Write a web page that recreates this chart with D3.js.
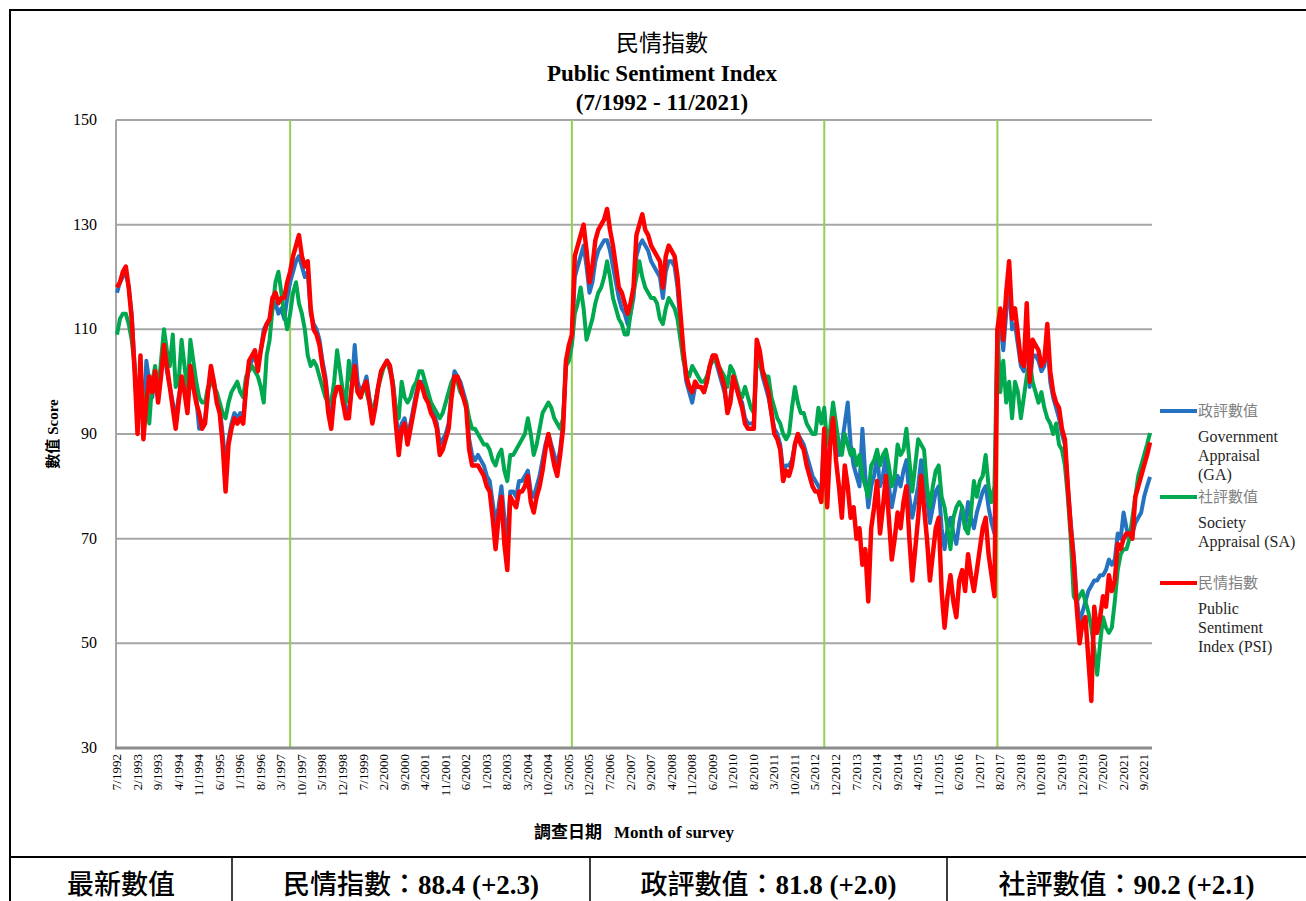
<!DOCTYPE html>
<html>
<head>
<meta charset="utf-8">
<script src="https://cdn.jsdelivr.net/npm/d3@7"></script>
<style>
    body { margin: 0; background: white; }
</style>
</head>
<body>
<script>

// monthly values, 7/1992 - 11/2021, one line per year
const psi = [
    118,119,121,122,118,112,
    102,90,105,89,96,101,98,102,96,101,107,103,
    99,95,91,96,101,98,94,103,99,96,94,91,
    92,98,103,100,96,94,88,79,88,91,93,92,
    93,92,99,104,105,106,102,106,109,111,112,116,
    117,115,116,116,119,121,124,126,128,124,122,123,
    114,110,109,107,103,100,94,91,97,99,99,96,
    93,93,99,103,98,97,99,100,96,92,95,99,
    102,103,104,103,99,92,86,91,92,88,91,94,
    97,100,99,97,96,94,93,91,86,87,89,91,
    97,101,101,99,97,95,87,84,84,84,83,82,
    80,79,74,68,74,78,69,64,78,77,76,79,
    79,80,82,77,75,78,80,83,87,90,87,84,
    82,86,91,104,107,109,124,126,128,130,125,119,
    122,127,129,130,131,133,129,126,122,118,117,115,
    113,115,118,128,130,132,129,128,126,125,124,123,
    118,124,126,125,124,120,113,106,101,99,98,100,
    99,99,98,100,103,105,105,103,101,99,94,96,
    101,99,97,95,92,91,91,91,108,106,102,100,
    98,94,90,89,87,81,83,82,84,88,90,88,
    87,84,82,80,79,79,77,91,76,88,93,85,
    80,74,84,80,74,76,70,72,65,68,58,72,
    76,81,71,76,82,74,66,70,75,72,77,80,
    70,62,68,74,82,76,70,62,67,72,74,60,
    53,59,63,58,55,62,64,60,67,63,60,64,
    68,72,74,67,63,59,110,114,108,117,123,112,
    114,109,104,103,115,100,108,107,106,103,104,111,
    102,98,96,95,91,89,80,72,66,57,50,54,
    55,47,39,57,52,55,59,57,63,60,62,69,
    68,70,71,71,70,78,80,82,84,86,88.4
]

const ga = [
    117,119,120,121,118,113,
    103,92,104,91,104,100,97,101,97,102,106,102,
    99,96,93,97,100,99,95,102,99,97,91,92,
    93,98,102,100,97,95,90,84,89,92,94,93,
    94,93,99,103,104,105,103,106,110,111,111,114,
    115,113,114,112,116,119,121,123,124,122,120,121,
    113,111,110,108,104,101,96,93,97,99,99,97,
    95,94,99,107,100,98,99,101,97,94,96,99,
    102,103,104,103,100,94,89,92,93,90,92,95,
    98,100,100,98,97,95,94,92,88,89,90,92,
    98,102,101,100,98,96,89,86,85,86,85,84,
    82,81,77,73,76,80,74,70,79,79,78,81,
    81,82,83,79,78,80,82,85,88,90,88,86,
    84,87,92,104,106,108,120,122,124,126,122,117,
    119,123,125,126,127,127,125,122,119,116,114,113,
    111,113,116,124,126,127,126,125,123,122,121,120,
    116,121,123,123,122,118,111,105,100,98,96,99,
    99,99,98,100,103,105,104,102,100,98,95,97,
    101,99,97,96,93,92,92,92,106,104,101,99,
    97,94,91,90,88,83,84,84,85,88,90,89,
    88,86,84,82,81,80,79,91,80,89,94,88,
    86,88,92,96,88,84,82,80,91,82,76,80,
    82,86,80,82,86,80,76,79,82,80,83,85,
    78,74,77,80,85,82,78,73,76,79,80,72,
    68,72,74,71,69,73,76,72,77,74,72,75,
    77,79,80,76,73,71,108,111,106,113,119,110,
    111,107,103,102,111,99,105,105,104,102,103,108,
    100,97,95,93,90,88,80,73,67,59,54,56,
    58,60,61,62,62,63,63,64,66,65,66,71,
    70,75,72,70,71,73,74,75,78,80,81.8
]

const sa = [
    109,112,113,113,111,108,
    103,93,101,94,98,92,100,103,98,104,110,106,
    103,109,99,100,108,103,98,108,104,100,97,96,
    96,99,100,99,98,96,94,93,96,98,99,100,
    98,97,101,102,103,102,101,99,96,105,108,114,
    119,121,117,113,110,113,117,119,115,113,110,105,
    103,104,103,101,99,97,96,96,100,106,102,98,
    96,104,100,101,98,97,99,98,96,94,96,99,
    101,103,104,102,100,95,93,100,97,96,97,99,
    100,102,102,100,98,96,95,94,93,94,96,98,
    100,101,100,98,97,96,93,91,91,90,89,88,
    88,87,85,84,86,87,83,81,86,86,87,88,
    89,90,93,90,86,88,91,94,95,96,95,93,
    92,91,93,103,104,107,113,115,118,114,108,110,
    112,115,117,118,120,123,120,116,114,112,111,109,
    109,113,117,120,123,120,118,117,116,116,115,112,
    111,114,116,115,114,112,108,104,102,101,103,102,
    101,100,100,101,103,104,104,103,102,101,99,103,
    102,100,98,97,99,97,95,94,104,103,102,101,
    101,97,95,93,92,90,89,90,95,99,96,94,
    94,92,91,90,90,95,92,95,88,91,96,92,
    88,86,90,88,86,87,84,86,82,80,78,84,
    85,87,84,86,87,84,80,82,88,86,87,91,
    85,79,84,89,88,87,80,76,80,83,84,78,
    76,72,68,74,76,77,76,72,71,75,81,78,
    81,82,86,80,77,80,110,98,104,96,100,93,
    100,98,93,97,101,104,100,98,96,98,95,93,
    92,90,92,88,87,84,78,70,59,58,59,60,
    58,56,53,49,44,50,55,53,52,53,58,64,
    67,68,68,70,74,78,82,84,86,88,90.2
]

const tickLabels = [
    '7/1992','2/1993','9/1993','4/1994','11/1994','6/1995','1/1996','8/1996','3/1997',
    '10/1997','5/1998','12/1998','7/1999','2/2000','9/2000','4/2001','11/2001','6/2002',
    '1/2003','8/2003','3/2004','10/2004','5/2005','12/2005','7/2006','2/2007','9/2007',
    '4/2008','11/2008','6/2009','1/2010','8/2010','3/2011','10/2011','5/2012','12/2012',
    '7/2013','2/2014','9/2014','4/2015','11/2015','6/2016','1/2017','8/2017','3/2018',
    '10/2018','5/2019','12/2019','7/2020','2/2021','9/2021'
]

const yTicks = [30, 50, 70, 90, 110, 130, 150]

// change of Chief Executive
const eventMonths = ['6/1997', '6/2005', '8/2012', '7/2017']

const seriesNames = ['ga', 'sa', 'psi']
const seriesColors = ['#2472c0', '#00a84f', '#ff0000']
const legendLines = [
    ['政評數值', 'Government', 'Appraisal', '(GA)'],
    ['社評數值', 'Society', 'Appraisal (SA)'],
    ['民情指數', 'Public', 'Sentiment', 'Index (PSI)']
]

const latestCells = [
    {zh: '最新數值', num: ''},
    {zh: '民情指數：', num: '88.4 (+2.3)'},
    {zh: '政評數值：', num: '81.8 (+2.0)'},
    {zh: '社評數值：', num: '90.2 (+2.1)'}
]

const months = []
for (let y = 1992, m = 7; y < 2021 || (y === 2021 && m <= 11);) {
    months.push(m + '/' + y)
    m++
    if (m > 12) { m = 1; y++ }
}

const serif = "'Liberation Serif', 'Times New Roman', serif"
const cjk = "'Noto Sans CJK TC', 'Noto Sans CJK SC', sans-serif"

const W = 1306, H = 901
const plot = {left: 116, right: 1152, top: 120, bottom: 748}

const svg = d3.select('body').append('svg')
    .attr('width', W)
    .attr('height', H)

const x = d3.scalePoint()
    .domain(months)
    .range([plot.left + 1, plot.right - 2])

const y = d3.scaleLinear()
    .domain([30, 150])
    .range([plot.bottom, plot.top])

function drawFrame(){
    svg.append('rect')
        .attr('x', 10).attr('y', 10)
        .attr('width', W + 10).attr('height', H + 10)
        .attr('fill', 'none')
        .attr('stroke', '#000')
        .attr('stroke-width', 2)
}

function drawTitles(){
    const cx = 662
    svg.append('text')
        .attr('x', cx).attr('y', 51)
        .attr('text-anchor', 'middle')
        .style('font-family', cjk)
        .style('font-size', '23px')
        .text('民情指數')
    svg.append('text')
        .attr('x', cx).attr('y', 81)
        .attr('text-anchor', 'middle')
        .style('font-family', serif)
        .style('font-weight', 'bold')
        .style('font-size', '23px')
        .text('Public Sentiment Index')
    svg.append('text')
        .attr('x', cx).attr('y', 110)
        .attr('text-anchor', 'middle')
        .style('font-family', serif)
        .style('font-weight', 'bold')
        .style('font-size', '23px')
        .text('(7/1992 - 11/2021)')
}

function drawAxes(){
    svg.append('g')
        .selectAll('line')
        .data(yTicks.filter(t => t > 30))
        .join('line')
        .attr('x1', plot.left).attr('x2', plot.right)
        .attr('y1', d => y(d)).attr('y2', d => y(d))
        .attr('stroke', '#a6a6a6')
        .attr('stroke-width', 2)

    svg.append('g')
        .selectAll('text')
        .data(yTicks)
        .join('text')
        .attr('x', 97)
        .attr('y', d => y(d) + 5)
        .attr('text-anchor', 'end')
        .style('font-family', serif)
        .style('font-size', '16px')
        .text(d => d)

    // vertical event lines
    svg.append('g')
        .selectAll('line')
        .data(eventMonths)
        .join('line')
        .attr('x1', d => x(d)).attr('x2', d => x(d))
        .attr('y1', plot.top).attr('y2', plot.bottom)
        .attr('stroke', '#92d050')
        .attr('stroke-width', 2)

    svg.append('line')
        .attr('x1', plot.left).attr('x2', plot.left)
        .attr('y1', plot.top).attr('y2', plot.bottom)
        .attr('stroke', '#a6a6a6')
        .attr('stroke-width', 2)

    svg.append('line')
        .attr('x1', plot.left - 1).attr('x2', plot.right)
        .attr('y1', y(30)).attr('y2', y(30))
        .attr('stroke', '#8c8c8c')
        .attr('stroke-width', 3)

    svg.append('g')
        .selectAll('text')
        .data(tickLabels)
        .join('text')
        .attr('transform', d => 'translate(' + (x(d) + 4) + ',' + 754 + ') rotate(-90)')
        .attr('text-anchor', 'end')
        .style('font-family', serif)
        .style('font-size', '13px')
        .text(d => d)

    const xt = svg.append('text')
        .attr('x', 634).attr('y', 838)
        .attr('text-anchor', 'middle')
        .style('font-weight', 'bold')
        .style('font-size', '17px')
    xt.append('tspan').style('font-family', cjk).text('調查日期')
    xt.append('tspan').style('font-family', serif).attr('dx', 12).text('Month of survey')

    const yt = svg.append('text')
        .attr('transform', 'translate(58,434) rotate(-90)')
        .attr('text-anchor', 'middle')
        .style('font-weight', 'bold')
        .style('font-size', '15px')
    yt.append('tspan').style('font-family', cjk).text('數值')
    yt.append('tspan').style('font-family', serif).attr('dx', 4).text('Score')
}

function drawSeries(){
    const data = {ga: ga, sa: sa, psi: psi}
    const line = d3.line()
        .x((d, i) => x(months[i]))
        .y(d => y(d))

    seriesNames.forEach((name, k) => {
        svg.append('path')
            .datum(data[name])
            .attr('d', line)
            .attr('fill', 'none')
            .attr('stroke', seriesColors[k])
            .attr('stroke-width', name === 'psi' ? 4.5 : 4)
            .attr('stroke-linejoin', 'round')
    })
}

function drawLegend(){
    const tops = [411, 497, 583]
    legendLines.forEach((lines, k) => {
        const g = svg.append('g').attr('transform', 'translate(0,' + tops[k] + ')')
        g.append('line')
            .attr('x1', 1160).attr('x2', 1197)
            .attr('stroke', seriesColors[k])
            .attr('stroke-width', 4)
        g.append('text')
            .attr('x', 1198).attr('y', 5)
            .style('font-family', cjk)
            .style('font-size', '15px')
            .attr('fill', '#808080')
            .text(lines[0])
        g.selectAll('text.en')
            .data(lines.slice(1))
            .join('text')
            .attr('class', 'en')
            .attr('x', 1198)
            .attr('y', (d, i) => 31 + i * 19)
            .style('font-family', serif)
            .style('font-size', '16px')
            .attr('fill', '#262626')
            .text(d => d)
    })
}

function drawTable(){
    const top = 857
    const cuts = [10, 232, 590, 947, W + 10]
    svg.append('line')
        .attr('x1', 10).attr('x2', W)
        .attr('y1', top).attr('y2', top)
        .attr('stroke', '#000').attr('stroke-width', 2)
    svg.append('g')
        .selectAll('line')
        .data(cuts.slice(1, 4))
        .join('line')
        .attr('x1', d => d).attr('x2', d => d)
        .attr('y1', top).attr('y2', H)
        .attr('stroke', '#000').attr('stroke-width', 1.5)

    latestCells.forEach((c, i) => {
        const t = svg.append('text')
            .attr('x', (cuts[i] + (i === 3 ? 1306 : cuts[i + 1])) / 2)
            .attr('y', 894)
            .attr('text-anchor', 'middle')
            .style('font-size', '27px')
        t.append('tspan').style('font-family', cjk).style('font-weight', 500).text(c.zh)
        t.append('tspan').style('font-family', serif).style('font-weight', 'bold').text(c.num)
    })
}

drawFrame()
drawTitles()
drawAxes()
drawSeries()
drawLegend()
drawTable()

</script>
</body>
</html>
